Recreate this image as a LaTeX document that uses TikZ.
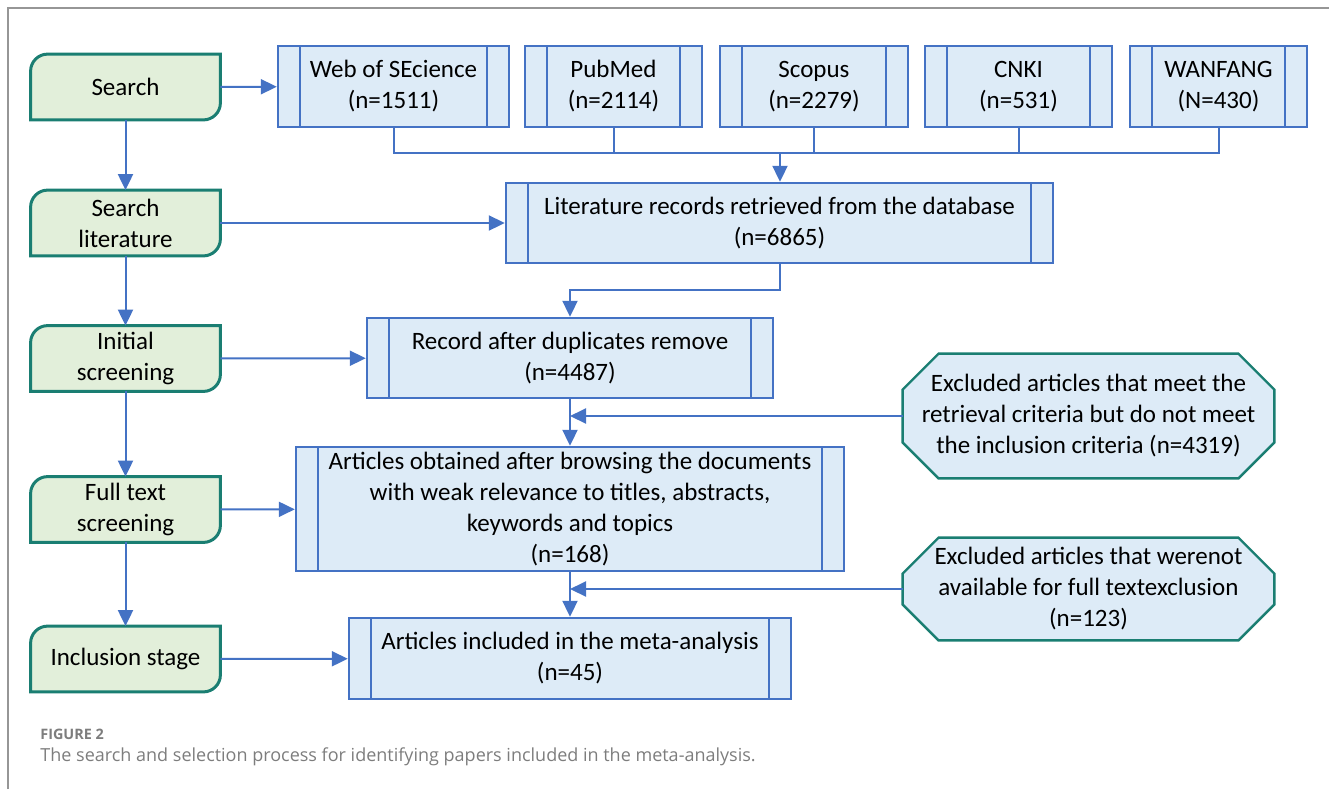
\documentclass[tikz,border=0pt]{standalone}
\usepackage{fontspec}
\setmainfont{Carlito}
\newfontfamily\capfont{Open Sans}
\usetikzlibrary{positioning,arrows.meta,backgrounds}

\definecolor{stagefill}{RGB}{226,239,218}
\definecolor{tealline}{RGB}{26,126,114}
\definecolor{boxfill}{RGB}{221,235,247}
\definecolor{boxline}{RGB}{68,114,196}
\definecolor{framegray}{RGB}{150,150,150}
\definecolor{capgray}{RGB}{125,125,125}

\tikzset{
  stage/.style={minimum width=94.5pt, minimum height=32.5pt, align=center, inner sep=0pt},
  dbbox/.style={draw=boxline, fill=boxfill, line width=1.2pt, minimum height=40.5pt,
    align=center, inner sep=0pt,
    path picture={\draw[boxline, line width=1.2pt]
      ([xshift=11pt]path picture bounding box.north west) -- ([xshift=11pt]path picture bounding box.south west)
      ([xshift=-11pt]path picture bounding box.north east) -- ([xshift=-11pt]path picture bounding box.south east);}},
  excl/.style={minimum width=185.5pt, align=center, inner sep=0pt},
  flow/.style={draw=boxline, line width=1pt, -{Triangle[length=8pt,width=7.5pt]}},
  link/.style={draw=boxline, line width=1pt},
}

% green stage box: top left and bottom right corners rounded
\newcommand{\stageframe}[1]{%
  \filldraw[fill=stagefill, draw=tealline, line width=1.5pt]
    (#1.north east) -- ([yshift=8.5pt]#1.south east)
    arc[start angle=0, end angle=-90, radius=8.5pt]
    -- (#1.south west) -- ([yshift=-8.5pt]#1.north west)
    arc[start angle=180, end angle=90, radius=8.5pt] -- cycle;}

% octagon round an exclusion node
\newcommand{\exclframe}[1]{%
  \filldraw[fill=boxfill, draw=tealline, line width=1.2pt]
    ([xshift=18pt]#1.north west) -- ([xshift=-18pt]#1.north east)
    -- ([yshift=-18pt]#1.north east) -- ([yshift=18pt]#1.south east)
    -- ([xshift=-18pt]#1.south east) -- ([xshift=18pt]#1.south west)
    -- ([yshift=18pt]#1.south west) -- ([yshift=-18pt]#1.north west) -- cycle;}

\begin{document}
\begin{tikzpicture}[x=0.5pt, y=-0.5pt, on grid, font=\fontsize{12.5}{15.5}\selectfont]
  \useasboundingbox (0,0) rectangle (1329,789);
  \draw[framegray, line width=1pt] (8,789) -- (8,8) -- (1329,8);

  % stages
  \node[stage] (search) at (125.5,87) {Search};
  \node[stage, below=68pt of search]   (lit)  {Search\\literature};
  \node[stage, below=67.75pt of lit]   (init) {Initial\\screening};
  \node[stage, below=75.5pt of init]   (full) {Full text\\screening};
  \node[stage, below=74.75pt of full]  (incl) {Inclusion stage};

  % databases
  \node[dbbox, minimum width=115.5pt] (web) at (393.5,86.5) {Web of SEcience\\(n=1511)};
  \node[dbbox, minimum width=88.5pt, right=110pt of web]     (pubmed)  {PubMed\\(n=2114)};
  \node[dbbox, minimum width=94pt, right=100.25pt of pubmed] (scopus)  {Scopus\\(n=2279)};
  \node[dbbox, minimum width=93.5pt, right=102.25pt of scopus] (cnki)  {CNKI\\(n=531)};
  \node[dbbox, minimum width=88.5pt, right=100pt of cnki]    (wanfang) {WANFANG\\(N=430)};

  % records
  \node[dbbox, minimum width=273.5pt, minimum height=40pt] (records) at (779.5,223)
    {Literature records retrieved from the database\\(n=6865)};
  \node[dbbox, minimum width=203pt, minimum height=40pt] (dedup) at (570,358)
    {Record after duplicates remove\\(n=4487)};
  \node[dbbox, minimum width=274pt, minimum height=62pt] (browse) at (570,509)
    {Articles obtained after browsing the documents\\with weak relevance to titles, abstracts,\\keywords and topics\\(n=168)};
  \node[dbbox, minimum width=221pt, minimum height=40.5pt] (meta) at (570,658.5)
    {Articles included in the meta-analysis\\(n=45)};

  % exclusions
  \node[excl, minimum height=62pt] (exA) at (1088.5,416)
    {Excluded articles that meet the\\retrieval criteria but do not meet\\the inclusion criteria (n=4319)};
  \node[excl, minimum height=51pt] (exB) at (1088.5,589)
    {Excluded articles that werenot\\available for full textexclusion\\(n=123)};

  % caption
  \node[anchor=west, inner sep=0pt, text=capgray, font=\capfont\bfseries\fontsize{7.2}{8}\selectfont] (figlabel) at (40,734) {FIGURE 2};
  \node[anchor=west, inner sep=0pt, text=capgray, font=\capfont\fontsize{9}{10}\selectfont] (figcap) at (40,757)
    {The search and selection process for identifying papers included in the meta-analysis.};

  \begin{scope}[on background layer]
    \stageframe{search}
    \stageframe{lit}
    \stageframe{init}
    \stageframe{full}
    \stageframe{incl}
    \exclframe{exA}
    \exclframe{exB}
  \end{scope}

  \path[flow] (search) -- (lit);
  \path[flow] (lit) -- (init);
  \path[flow] (init) -- (full);
  \path[flow] (full) -- (incl);

  \path[flow] (search) -- (web);
  \path[flow] (lit) -- (records);
  \path[flow] (init) -- (dedup);
  \path[flow] (full) -- (browse);
  \path[flow] (incl) -- (meta);

  \coordinate (join) at (780,153);
  \path[link] (web.south) |- (join) -| (wanfang.south);
  \path[link] (pubmed.south) -- (pubmed.south |- join);
  \path[link] (scopus.south) -- (scopus.south |- join);
  \path[link] (cnki.south) -- (cnki.south |- join);
  \path[flow] (join) -- (join |- records.north);

  \path[flow] (records.south) -- ++(0,26) -| (dedup.north);
  \path[flow] (dedup) -- (browse);
  \path[flow] (exA) -- (exA.west -| dedup.south);
  \path[flow] (browse) -- (meta);
  \path[flow] (exB) -- (exB.west -| browse.south);
\end{tikzpicture}
\end{document}
